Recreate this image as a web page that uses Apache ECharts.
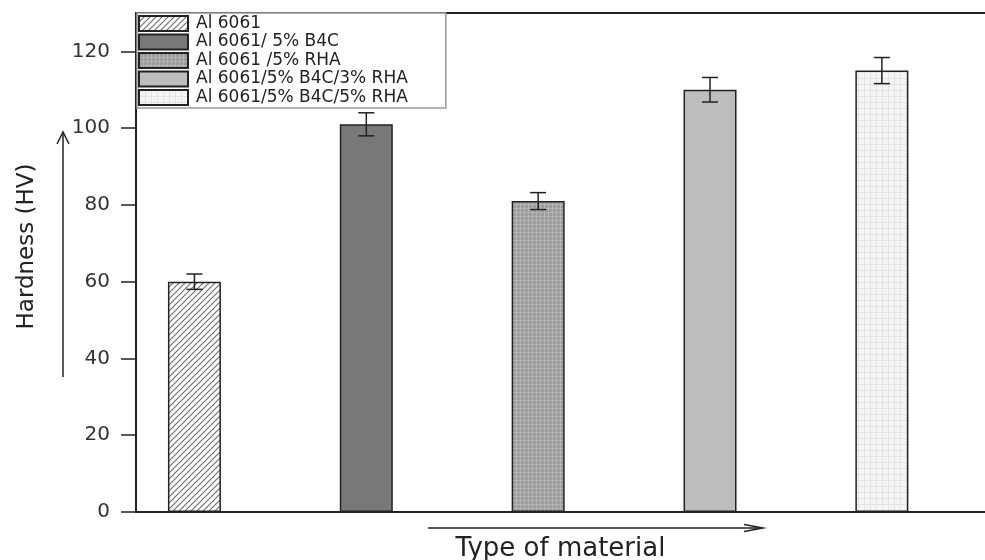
<!DOCTYPE html>
<html>
<head>
<meta charset="utf-8">
<title>Hardness</title>
<script src="https://cdn.jsdelivr.net/npm/echarts@6/dist/echarts.min.js"></script>
<style>
  html, body { margin: 0; padding: 0; background: #fff; }
  #chart { width: 985px; height: 560px; }
</style>
</head>
<body>
<div id="chart"></div>
<script>
// data
const materials = ['Al 6061', 'Al 6061/ 5% B4C', 'Al 6061 /5% RHA', 'Al 6061/5% B4C/3% RHA', 'Al 6061/5% B4C/5% RHA']
const hardness = [60, 101, 81, 110, 115]
const hardnessErr = [2, 3, 2.2, 3.2, 3.4]
const yTicks = [0, 20, 40, 60, 80, 100, 120]
const yMinorTicks = [10, 30, 50, 70, 90, 110]

const FONT = 'DejaVu Sans'
const INK = '#222'

// small canvas tiles used as bar fills
function makePattern (size, bg, draw) {
  const c = document.createElement('canvas')
  c.width = size
  c.height = size
  const ctx = c.getContext('2d')
  ctx.fillStyle = bg
  ctx.fillRect(0, 0, size, size)
  draw(ctx, size)
  return { image: c, repeat: 'repeat' }
}

const hatch = makePattern(6, '#ffffff', (ctx, s) => {
  ctx.strokeStyle = '#707070'
  ctx.lineWidth = 1.2
  ctx.beginPath()
  ctx.moveTo(0, s); ctx.lineTo(s, 0)
  ctx.moveTo(-s / 2, s / 2); ctx.lineTo(s / 2, -s / 2)
  ctx.moveTo(s / 2, s * 1.5); ctx.lineTo(s * 1.5, s / 2)
  ctx.stroke()
})
const grayGrid = makePattern(4, '#9c9c9c', (ctx, s) => {
  ctx.fillStyle = '#b4b4b4'
  ctx.fillRect(0, 0, s, 1)
  ctx.fillRect(0, 0, 1, s)
})
const paleGrid = makePattern(6, '#f5f5f5', (ctx, s) => {
  ctx.fillStyle = '#e3e3e3'
  ctx.fillRect(0, 0, s, 1)
  ctx.fillRect(0, 0, 1, s)
})
const fills = [hatch, '#787878', grayGrid, '#bdbdbd', paleGrid]

const chart = echarts.init(document.getElementById('chart'))

const barSeries = materials.map((name, i) => ({
  name: name,
  type: 'bar',
  barWidth: 53,
  barGap: '-100%',
  data: [[i + 1, hardness[i]]],
  itemStyle: { color: fills[i], borderColor: INK, borderWidth: 1.5 },
  z: 2
}))

const errSeries = {
  type: 'custom',
  name: 'error',
  data: hardness.map((v, i) => [i + 1, v, hardnessErr[i]]),
  encode: { x: 0, y: 1 },
  z: 3,
  renderItem: (params, api) => {
    const x = api.value(0)
    const v = api.value(1)
    const e = api.value(2)
    const top = api.coord([x, v + e])
    const bot = api.coord([x, v - e])
    const half = 8
    const st = { stroke: INK, lineWidth: 1.5 }
    return {
      type: 'group',
      children: [
        { type: 'line', shape: { x1: top[0], y1: top[1], x2: bot[0], y2: bot[1] }, style: st },
        { type: 'line', shape: { x1: top[0] - half, y1: top[1], x2: top[0] + half, y2: top[1] }, style: st },
        { type: 'line', shape: { x1: bot[0] - half, y1: bot[1], x2: bot[0] + half, y2: bot[1] }, style: st }
      ]
    }
  }
}

chart.setOption({
  animation: false,
  backgroundColor: '#fff',
  grid: { left: 136, right: 0, top: 13, bottom: 48, outerBoundsMode: 'none', containLabel: false },
  legend: {
    data: materials,
    orient: 'vertical',
    left: 137,
    top: 13,
    icon: 'rect',
    itemWidth: 49,
    itemHeight: 15,
    itemGap: 1.5,
    padding: [2, 38, 2, 1],
    backgroundColor: '#fff',
    borderColor: '#9a9a9a',
    borderWidth: 1.5,
    selectedMode: false,
    textStyle: { fontFamily: FONT, fontSize: 17, color: INK, padding: [0, 0, 0, 3] }
  },
  xAxis: [
    {
      type: 'value',
      min: 0.66,
      max: 5.6,
      name: 'Type of material',
      nameLocation: 'middle',
      nameGap: 24,
      nameTextStyle: { fontFamily: FONT, fontSize: 26, color: INK },
      axisLine: { show: true, onZero: false, lineStyle: { color: INK, width: 2 } },
      axisTick: { show: false },
      axisLabel: { show: false },
      splitLine: { show: false }
    },
    {
      type: 'value',
      position: 'top',
      min: 0.66,
      max: 5.6,
      axisLine: { show: true, onZero: false, lineStyle: { color: INK, width: 2 } },
      axisTick: { show: false },
      axisLabel: { show: false },
      splitLine: { show: false }
    }
  ],
  yAxis: [
    {
      type: 'value',
      min: 0,
      max: 130,
      name: 'Hardness (HV)',
      nameLocation: 'middle',
      nameGap: 97,
      nameTextStyle: { fontFamily: FONT, fontSize: 23, color: INK, padding: [0, 0, 0, 32] },
      axisLine: { show: true, onZero: false, lineStyle: { color: INK, width: 2 } },
      axisTick: { show: true, customValues: yTicks, length: 15, lineStyle: { color: INK, width: 1.5 } },
      axisLabel: { customValues: yTicks, margin: 26, fontFamily: FONT, fontSize: 20, color: '#333' },
      splitLine: { show: false }
    },
    {
      type: 'value',
      min: 0,
      max: 130,
      axisLine: { show: false },
      axisTick: { show: true, customValues: yMinorTicks, length: 8, lineStyle: { color: INK, width: 1.5 } },
      axisLabel: { show: false },
      splitLine: { show: false }
    }
  ],
  graphic: [
    // vertical arrow beside the y axis title
    { type: 'line', shape: { x1: 63, y1: 377, x2: 63, y2: 133 }, style: { stroke: INK, lineWidth: 1.5 } },
    { type: 'polyline', shape: { points: [[57, 144], [63, 132], [69, 144]] }, style: { stroke: INK, lineWidth: 1.5, fill: null } },
    // horizontal arrow above the x axis title
    { type: 'line', shape: { x1: 428, y1: 528, x2: 761, y2: 528 }, style: { stroke: INK, lineWidth: 1.5 } },
    { type: 'polyline', shape: { points: [[744, 524.5], [763, 528], [744, 531.5]] }, style: { stroke: INK, lineWidth: 1.5, fill: null } }
  ],
  series: barSeries.concat([errSeries])
})
</script>
</body>
</html>
